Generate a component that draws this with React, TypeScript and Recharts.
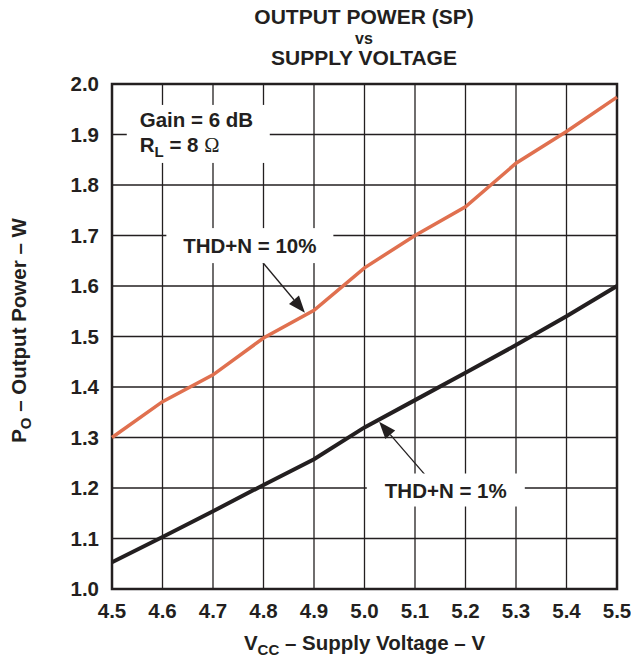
import React from "react";
import {
  LineChart,
  Line,
  XAxis,
  YAxis,
  CartesianGrid,
  ReferenceArea,
  ReferenceDot,
  ReferenceLine,
} from "recharts";

const voltage = [4.5, 4.6, 4.7, 4.8, 4.9, 5.0, 5.1, 5.2, 5.3, 5.4, 5.5];
const thd10 = [1.3, 1.371, 1.424, 1.497, 1.552, 1.636, 1.7, 1.757, 1.843, 1.906, 1.974];
const thd1 = [1.053, 1.103, 1.154, 1.206, 1.257, 1.32, 1.374, 1.428, 1.483, 1.54, 1.6];
const xTicks = [4.5, 4.6, 4.7, 4.8, 4.9, 5.0, 5.1, 5.2, 5.3, 5.4, 5.5];
const yTicks = [1.0, 1.1, 1.2, 1.3, 1.4, 1.5, 1.6, 1.7, 1.8, 1.9, 2.0];

const data = voltage.map((v, i) => ({ v, thd10: thd10[i], thd1: thd1[i] }));

const INK = "#231f20";
const ORANGE = "#e0704f";
const FONT = "'Liberation Sans', Arial, Helvetica, sans-serif";

const textStyle = {
  fill: INK,
  fontFamily: FONT,
  fontWeight: "bold" as const,
  fontSize: 20.5,
};

function Arrow(props: any) {
  const { x1, y1, x2, y2 } = props;
  const ang = Math.atan2(y2 - y1, x2 - x1);
  const len = 17;
  const half = 6.5;
  const bx = x2 - len * Math.cos(ang);
  const by = y2 - len * Math.sin(ang);
  const px = -Math.sin(ang) * half;
  const py = Math.cos(ang) * half;
  return (
    <g>
      <line x1={x1} y1={y1} x2={bx} y2={by} stroke={INK} strokeWidth={1.3} />
      <polygon
        points={`${x2},${y2} ${bx + px},${by + py} ${bx - px},${by - py}`}
        fill={INK}
      />
    </g>
  );
}

function BoxLabel(text: string, w: number, h: number) {
  return (props: any) => {
    const { cx, cy } = props;
    return (
      <g>
        <rect x={cx - w / 2} y={cy - h / 2} width={w} height={h} fill="#fff" />
        <text x={cx} y={cy + 7.5} textAnchor="middle" {...textStyle}>
          {text}
        </text>
      </g>
    );
  };
}

function GainLabel(props: any) {
  const { cx, cy } = props;
  return (
    <g>
      <rect x={cx - 13} y={cy - 22} width={143} height={58} fill="#fff" />
      <text x={cx} y={cy} {...textStyle}>
        Gain = 6 dB
      </text>
      <text x={cx} y={cy + 25} {...textStyle}>
        R
        <tspan fontSize={15} dy={5}>
          L
        </tspan>
        <tspan dy={-5}> = 8 </tspan>
        <tspan fontWeight="normal" fontFamily="'Liberation Serif', serif">
          Ω
        </tspan>
      </text>
    </g>
  );
}

function XLabel(props: any) {
  const { viewBox } = props;
  const cx = viewBox.x + viewBox.width / 2;
  return (
    <text x={cx} y={650} textAnchor="middle" {...textStyle}>
      V
      <tspan fontSize={15} dy={5}>
        CC
      </tspan>
      <tspan dy={-5}> – Supply Voltage – V</tspan>
    </text>
  );
}

function YLabel(props: any) {
  const { viewBox } = props;
  const cy = viewBox.y + viewBox.height / 2 - 6;
  return (
    <text
      x={26}
      y={cy}
      textAnchor="middle"
      transform={`rotate(-90 26 ${cy})`}
      {...textStyle}
    >
      P
      <tspan fontSize={15} dy={5}>
        O
      </tspan>
      <tspan dy={-5}> – Output Power – W</tspan>
    </text>
  );
}

export default function App() {
  return (
    <div style={{ position: "absolute", left: 0, top: 0, width: 631, height: 657, background: "#fff" }}>
      <svg width={631} height={80} style={{ position: "absolute", left: 0, top: 0 }}>
        <text x={364} y={24} textAnchor="middle" {...textStyle} fontSize={21}>
          OUTPUT POWER (SP)
        </text>
        <text x={364} y={43.5} textAnchor="middle" {...textStyle} fontSize={16}>
          vs
        </text>
        <text x={364} y={65} textAnchor="middle" {...textStyle} fontSize={21}>
          SUPPLY VOLTAGE
        </text>
      </svg>
      <LineChart
        width={631}
        height={657}
        data={data}
        margin={{ top: 84, right: 14, bottom: 0, left: 0 }}
      >
        <CartesianGrid stroke={INK} strokeWidth={1.3} horizontalValues={yTicks} verticalValues={xTicks} />
        <XAxis
          dataKey="v"
          type="number"
          domain={[4.5, 5.5]}
          ticks={xTicks}
          tickFormatter={(v: number) => v.toFixed(1)}
          height={68}
          axisLine={false}
          tickLine={false}
          tickSize={0}
          tickMargin={14}
          tick={textStyle}
          interval={0}
          label={<XLabel />}
        />
        <YAxis
          type="number"
          domain={[1.0, 2.0]}
          ticks={yTicks}
          tickFormatter={(v: number) => v.toFixed(1)}
          width={112}
          axisLine={false}
          tickLine={false}
          tickSize={0}
          tickMargin={13}
          tick={textStyle}
          interval={0}
          label={<YLabel />}
        />
        <ReferenceDot x={4.555} y={1.915} r={0} shape={GainLabel} />
        <ReferenceDot x={4.773} y={1.68} r={0} shape={BoxLabel("THD+N = 10%", 167, 35)} />
        <ReferenceDot x={5.161} y={1.196} r={0} shape={BoxLabel("THD+N = 1%", 158, 33)} />
        <ReferenceLine
          segment={[
            { x: 4.799, y: 1.646 },
            { x: 4.882, y: 1.547 },
          ]}
          shape={Arrow}
        />
        <ReferenceLine
          segment={[
            { x: 5.12, y: 1.226 },
            { x: 5.029, y: 1.331 },
          ]}
          shape={Arrow}
        />
        <Line
          dataKey="thd10"
          stroke={ORANGE}
          strokeWidth={3.5}
          dot={false}
          isAnimationActive={false}
        />
        <Line
          dataKey="thd1"
          stroke={INK}
          strokeWidth={4}
          dot={false}
          isAnimationActive={false}
        />
        <ReferenceArea
          x1={4.5}
          x2={5.5}
          y1={1.0}
          y2={2.0}
          fill="none"
          stroke={INK}
          strokeWidth={2.5}
          ifOverflow="visible"
        />
      </LineChart>
    </div>
  );
}
